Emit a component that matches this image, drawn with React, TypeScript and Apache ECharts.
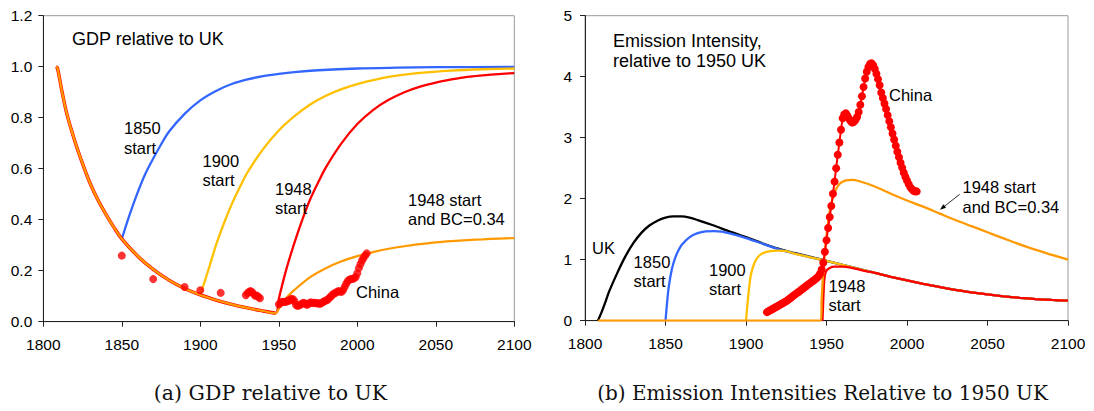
import React, { useEffect, useRef } from "react";
import * as echarts from "echarts";

// ---------- (a) GDP relative to UK ----------
const gdpBaseYears = [1808, 1809, 1812, 1815, 1820, 1825, 1830, 1835, 1840, 1845, 1850, 1860, 1870, 1880, 1890, 1900, 1910, 1920, 1930, 1940, 1948];
const gdpBaseValues = [1.0, 0.995, 0.9, 0.815, 0.71, 0.62, 0.54, 0.475, 0.42, 0.37, 0.325, 0.258, 0.205, 0.163, 0.13, 0.105, 0.085, 0.068, 0.054, 0.042, 0.033];

const gdp1850Years = [1850, 1855, 1860, 1865, 1870, 1875, 1880, 1890, 1900, 1910, 1920, 1930, 1940, 1950, 1960, 1975, 2000, 2025, 2050, 2100];
const gdp1850Values = [0.325, 0.42, 0.505, 0.58, 0.64, 0.695, 0.745, 0.815, 0.868, 0.905, 0.932, 0.95, 0.963, 0.972, 0.979, 0.986, 0.993, 0.996, 0.998, 0.999];

const gdp1900Years = [1900, 1905, 1910, 1915, 1920, 1925, 1930, 1940, 1950, 1960, 1970, 1980, 1990, 2000, 2020, 2040, 2060, 2080, 2100];
const gdp1900Values = [0.105, 0.2, 0.3, 0.385, 0.46, 0.525, 0.585, 0.677, 0.75, 0.806, 0.852, 0.886, 0.912, 0.932, 0.96, 0.976, 0.985, 0.99, 0.993];

const gdp1948Years = [1950, 1955, 1960, 1965, 1970, 1975, 1980, 1990, 2000, 2010, 2020, 2030, 2040, 2050, 2060, 2070, 2080, 2090, 2100];
const gdp1948Values = [0.09, 0.21, 0.31, 0.4, 0.48, 0.545, 0.605, 0.7, 0.775, 0.83, 0.87, 0.9, 0.922, 0.938, 0.95, 0.96, 0.966, 0.971, 0.975];

const gdpBcYears = [1950, 1955, 1960, 1970, 1980, 1990, 2000, 2010, 2020, 2030, 2040, 2050, 2060, 2070, 2080, 2090, 2100];
const gdpBcValues = [0.05, 0.095, 0.125, 0.175, 0.21, 0.237, 0.257, 0.273, 0.286, 0.296, 0.304, 0.311, 0.316, 0.32, 0.323, 0.326, 0.328];

const chinaGdpYears = [
  1850, 1870, 1890, 1900, 1913, 1929, 1930, 1931, 1932, 1933, 1934, 1935, 1936, 1937, 1938,
  1950, 1951, 1952, 1953, 1954, 1955, 1956, 1957, 1958, 1959, 1960, 1961, 1962, 1963, 1964,
  1965, 1966, 1967, 1968, 1969, 1970, 1971, 1972, 1973, 1974, 1975, 1976, 1977, 1978, 1979,
  1980, 1981, 1982, 1983, 1984, 1985, 1986, 1987, 1988, 1989, 1990, 1991, 1992, 1993, 1994,
  1995, 1996, 1997, 1998, 1999, 2000, 2001, 2002, 2003, 2004, 2005, 2006,
];
const chinaGdpValues = [
  0.259, 0.167, 0.136, 0.123, 0.113, 0.104, 0.112, 0.117, 0.12, 0.116, 0.108, 0.102, 0.103, 0.097, 0.092,
  0.068, 0.072, 0.078, 0.078, 0.077, 0.079, 0.083, 0.083, 0.09, 0.088, 0.08, 0.065, 0.062, 0.064, 0.068,
  0.072, 0.074, 0.069, 0.066, 0.07, 0.075, 0.075, 0.073, 0.074, 0.072, 0.073, 0.07, 0.072, 0.076, 0.08,
  0.083, 0.086, 0.092, 0.098, 0.105, 0.11, 0.112, 0.117, 0.12, 0.118, 0.117, 0.124, 0.137, 0.15, 0.16,
  0.165, 0.167, 0.168, 0.17, 0.175, 0.19, 0.21, 0.225, 0.24, 0.25, 0.26, 0.268,
];

// ---------- (b) Emission intensity relative to 1950 UK ----------
const eiCommonYears = [1950, 1960, 1970, 1980, 1990, 2000, 2010, 2020, 2030, 2040, 2050, 2060, 2070, 2080, 2090, 2100];
const eiCommonValues = [0.98, 0.915, 0.85, 0.785, 0.72, 0.66, 0.605, 0.555, 0.505, 0.465, 0.43, 0.4, 0.375, 0.355, 0.34, 0.328];

const eiUkYears = [1808, 1810, 1813, 1815, 1820, 1825, 1830, 1835, 1840, 1845, 1850, 1855, 1860, 1865, 1870, 1880, 1890, 1900, 1910, 1920, 1930, 1940];
const eiUkValues = [0, 0.12, 0.33, 0.48, 0.78, 1.05, 1.27, 1.44, 1.56, 1.64, 1.69, 1.71, 1.71, 1.69, 1.65, 1.56, 1.46, 1.37, 1.27, 1.18, 1.11, 1.045];

const ei1850Years = [1850, 1851, 1852, 1854, 1856, 1858, 1860, 1865, 1870, 1875, 1880, 1885, 1890, 1900, 1910, 1920, 1930, 1940];
const ei1850Values = [0, 0.3, 0.55, 0.85, 1.03, 1.15, 1.24, 1.37, 1.435, 1.465, 1.47, 1.46, 1.43, 1.355, 1.265, 1.175, 1.105, 1.04];

const ei1900Years = [1900, 1901, 1902, 1903, 1905, 1907, 1910, 1915, 1920, 1925, 1930, 1940];
const ei1900Values = [0, 0.3, 0.55, 0.75, 0.93, 1.03, 1.1, 1.14, 1.15, 1.14, 1.1, 1.04];

const ei1948Years = [1947.5, 1948, 1948.5, 1949, 1950, 1952, 1955, 1960, 1965, 1970, 1975, 1980];
const ei1948Values = [0, 0.35, 0.62, 0.75, 0.82, 0.865, 0.885, 0.885, 0.87, 0.84, 0.81, 0.785];

const eiBcYears = [1808, 1946.5, 1947, 1948, 1949, 1950, 1952, 1955, 1958, 1962, 1966, 1970, 1980, 1990, 2000, 2010, 2020, 2030, 2040, 2050, 2060, 2070, 2080, 2090, 2100];
const eiBcValues = [0, 0, 0.35, 0.8, 1.12, 1.4, 1.8, 2.1, 2.24, 2.3, 2.31, 2.29, 2.2, 2.08, 1.97, 1.87, 1.76, 1.65, 1.55, 1.45, 1.35, 1.25, 1.16, 1.08, 1.0];

const chinaEiYears = [
  1913, 1914, 1915, 1916, 1917, 1918, 1919, 1920, 1921, 1922, 1923, 1924, 1925, 1926, 1927, 1928, 1929, 1930,
  1931, 1932, 1933, 1934, 1935, 1936, 1937, 1938, 1939, 1940, 1941, 1942, 1943, 1944, 1945, 1946, 1947, 1948,
  1949, 1950, 1951, 1952, 1953, 1954, 1955, 1956, 1957, 1958, 1959, 1960, 1961, 1962, 1963, 1964, 1965, 1966,
  1967, 1968, 1969, 1970, 1971, 1972, 1973, 1974, 1975, 1976, 1977, 1978, 1979, 1980, 1981, 1982, 1983, 1984,
  1985, 1986, 1987, 1988, 1989, 1990, 1991, 1992, 1993, 1994, 1995, 1996, 1997, 1998, 1999, 2000, 2001, 2002,
  2003, 2004, 2005, 2006,
];
const chinaEiValues = [
  0.14, 0.155, 0.17, 0.185, 0.2, 0.215, 0.23, 0.245, 0.26, 0.275, 0.29, 0.305, 0.32, 0.34, 0.36, 0.38, 0.4, 0.42,
  0.44, 0.46, 0.48, 0.5, 0.52, 0.54, 0.56, 0.58, 0.6, 0.62, 0.64, 0.66, 0.68, 0.7, 0.73, 0.77, 0.84, 0.95,
  1.13, 1.32, 1.52, 1.7, 1.88, 2.08, 2.28, 2.5, 2.72, 2.92, 3.13, 3.32, 3.38, 3.4, 3.36, 3.31, 3.27, 3.25,
  3.26, 3.29, 3.34, 3.42, 3.54, 3.68, 3.83, 3.97, 4.08, 4.16, 4.21, 4.22, 4.19, 4.13, 4.05, 3.96, 3.86, 3.74,
  3.65, 3.56, 3.47, 3.37, 3.27, 3.17, 3.07, 2.97, 2.87, 2.77, 2.68, 2.59, 2.51, 2.43, 2.36, 2.3, 2.24, 2.19,
  2.16, 2.13, 2.12, 2.12,
];

const xTicks = [1800, 1850, 1900, 1950, 2000, 2050, 2100];

const BLUE = "#3366ff";
const YELLOW = "#ffc000";
const RED = "#ff0000";
const ORANGE = "#ff9900";
const SANS = "'Liberation Sans', Arial, sans-serif";
const SERIF = "'DejaVu Serif', serif";

const zip = (xs: number[], ys: number[]) => xs.map((x, i) => [x, ys[i]]);

function xAxis(gridIndex: number) {
  return {
    type: "value",
    gridIndex,
    min: xTicks[0],
    max: xTicks[xTicks.length - 1],
    interval: xTicks[1] - xTicks[0],
    axisLine: { show: true, onZero: false, lineStyle: { color: "#222", width: 1 } },
    axisTick: { show: true, length: 5, lineStyle: { color: "#222" } },
    axisLabel: { fontFamily: SANS, fontSize: 15.5, color: "#000", margin: 15, formatter: (v: number) => String(v) },
    splitLine: { show: false },
  };
}

function yAxis(gridIndex: number, max: number, interval: number, digits: number, margin: number) {
  return {
    type: "value",
    gridIndex,
    min: 0,
    max,
    interval,
    axisLine: { show: true, onZero: false, lineStyle: { color: "#222", width: 1 } },
    axisTick: { show: true, length: 5, lineStyle: { color: "#222" } },
    axisLabel: { fontFamily: SANS, fontSize: 15.5, color: "#000", margin, formatter: (v: number) => v.toFixed(digits) },
    splitLine: { show: false },
  };
}

function line(name: string, data: number[][], color: string, axis: number, width = 2.3) {
  return {
    name,
    type: "line",
    xAxisIndex: axis,
    yAxisIndex: axis,
    data,
    symbol: "none",
    smooth: 0.3,
    lineStyle: { color, width },
    silent: true,
  };
}

function txt(x: number, y: number, text: string, size = 16.5, lh = 19.5) {
  return {
    type: "text",
    x,
    y,
    z: 100,
    style: {
      text,
      fill: "#000",
      fontSize: size,
      fontFamily: SANS,
      align: "left",
      verticalAlign: "middle",
      lineHeight: lh,
    },
  };
}

export default function App() {
  const ref = useRef<HTMLDivElement>(null);
  useEffect(() => {
    const chart = echarts.init(ref.current!, null, { renderer: "svg" });
    const gdpBase = zip(gdpBaseYears, gdpBaseValues);
    const gdpBaseEnd = gdpBase.slice(gdpBase.length - 2);
    const eiCommon = zip(eiCommonYears, eiCommonValues);
    const option: any = {
      animation: false,
      backgroundColor: "#fff",
      grid: [
        { left: 43.3, top: 15.7, width: 471, height: 306, show: true, borderColor: "#999", borderWidth: 1 },
        { left: 585, top: 15.7, width: 483, height: 305, show: true, borderColor: "#999", borderWidth: 1 },
      ],
      xAxis: [xAxis(0), xAxis(1)],
      yAxis: [yAxis(0, 1.2, 0.2, 1, 11), yAxis(1, 5, 1, 0, 13)],
      series: [
        line("1850 start", zip(gdp1850Years, gdp1850Values), BLUE, 0),
        line("1900 start", zip(gdp1900Years, gdp1900Values), YELLOW, 0),
        line("1948 start (base)", gdpBase, RED, 0, 3.4),
        line("1948 start", gdpBaseEnd.concat(zip(gdp1948Years, gdp1948Values)), RED, 0),
        line("1948 start and BC=0.34", gdpBase.concat(zip(gdpBcYears, gdpBcValues)), ORANGE, 0, 2.2),
        {
          name: "China",
          type: "scatter",
          xAxisIndex: 0,
          yAxisIndex: 0,
          data: zip(chinaGdpYears, chinaGdpValues),
          symbol: "circle",
          symbolSize: 8,
          itemStyle: { color: RED },
          silent: true,
          z: 5,
        },
        line("UK", zip(eiUkYears, eiUkValues).concat(eiCommon), "#000", 1),
        line("1850 start", zip(ei1850Years, ei1850Values).concat(eiCommon), BLUE, 1),
        line("1900 start", zip(ei1900Years, ei1900Values).concat(eiCommon), YELLOW, 1),
        line("1948 start", zip(ei1948Years, ei1948Values).concat(eiCommon.slice(4)), RED, 1),
        line("1948 start and BC=0.34", zip(eiBcYears, eiBcValues), ORANGE, 1),
        {
          name: "China",
          type: "line",
          xAxisIndex: 1,
          yAxisIndex: 1,
          data: zip(chinaEiYears, chinaEiValues),
          symbol: "circle",
          symbolSize: 8,
          showSymbol: true,
          showAllSymbol: true,
          itemStyle: { color: RED },
          lineStyle: { color: RED, width: 2 },
          silent: true,
          z: 5,
        },
      ],
      graphic: [
        txt(72, 39, "GDP relative to UK", 18),
        txt(124, 138, "1850\nstart"),
        txt(202.5, 170.5, "1900\nstart"),
        txt(275, 198.5, "1948\nstart"),
        txt(408, 209.5, "1948 start\nand BC=0.34"),
        txt(356, 292, "China"),
        txt(613, 51, "Emission Intensity,\nrelative to 1950 UK", 18, 20.3),
        txt(889, 95, "China"),
        txt(962.5, 197.2, "1948 start\nand BC=0.34"),
        txt(592, 248.3, "UK"),
        txt(633.6, 271.3, "1850\nstart"),
        txt(709, 279.3, "1900\nstart"),
        txt(828.6, 295.7, "1948\nstart"),
        {
          type: "line",
          z: 100,
          shape: { x1: 959.7, y1: 194.3, x2: 942, y2: 208.2 },
          style: { stroke: "#000", lineWidth: 0.8 },
        },
        {
          type: "polygon",
          z: 100,
          shape: { points: [[940, 209.7], [946.1, 207.7], [943.3, 204.3]] },
          style: { fill: "#000" },
        },
        {
          type: "text",
          x: 270.5,
          y: 393,
          z: 100,
          style: { text: "(a) GDP relative to UK", fill: "#111", fontSize: 20.5, fontFamily: SERIF, align: "center", verticalAlign: "middle" },
        },
        {
          type: "text",
          x: 822.5,
          y: 393,
          z: 100,
          style: {
            text: "(b) Emission Intensities Relative to 1950 UK",
            fill: "#111",
            fontSize: 20,
            fontFamily: SERIF,
            align: "center",
            verticalAlign: "middle",
          },
        },
      ],
    };
    chart.setOption(option);
    return () => chart.dispose();
  }, []);
  return (
    <div
      ref={ref}
      style={{ position: "absolute", left: 0, top: 0, width: 1094, height: 411, background: "#fff" }}
    />
  );
}
